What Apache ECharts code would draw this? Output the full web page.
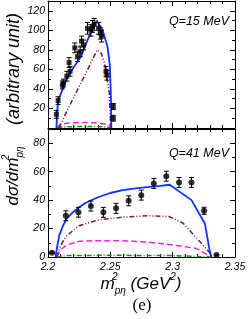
<!DOCTYPE html>
<html><head><meta charset="utf-8">
<script src="https://cdn.jsdelivr.net/npm/echarts@6/dist/echarts.min.js"></script>
<style>html,body{margin:0;padding:0;background:#fff}#c{width:249px;height:319px}</style>
</head><body><div id="c"></div>
<script>
// ---- data: Q = 15 MeV (top panel) ----
const q15X   = [2.2067, 2.2081, 2.2115, 2.2124, 2.2151, 2.2169, 2.2177, 2.2215, 2.2237, 2.2258, 2.2269, 2.2285, 2.2317, 2.2344, 2.2357, 2.2371, 2.2406, 2.2419, 2.2430, 2.2465, 2.2473, 2.2524, 2.2524];
const q15Y   = [14, 28, 44, 46, 53, 67, 58, 82, 73, 78, 89, 85, 102, 100, 104, 106, 102, 97, 94, 58, 54, 22, 10];
const q15Err = [4, 4, 4, 4, 5, 5, 5, 5, 5, 5, 5, 5, 6, 6, 6, 6, 6, 6, 6, 5, 5, 3, 3];
const q15BlueX = [2.2067, 2.2075, 2.2081, 2.2115, 2.2156, 2.2210, 2.2264, 2.2317, 2.2390, 2.2438, 2.2478, 2.2497, 2.2505, 2.2508];
const q15BlueY = [0, 18, 28, 39, 52, 63, 73, 90, 110, 100, 83, 63, 30, 0];
const q15BrownX = [2.2089, 2.215, 2.222, 2.23, 2.236, 2.2395, 2.2425, 2.2452, 2.2465, 2.2492, 2.2503];
const q15BrownY = [0, 17, 35, 55, 71, 80, 77, 67, 58, 35, 0];
const q15MagX = [2.2067, 2.2075, 2.2095, 2.215, 2.222, 2.23, 2.238, 2.245, 2.249, 2.2505];
const q15MagY = [0, 2, 3.5, 4.8, 5.5, 5.7, 5.3, 4.2, 3, 0];
const q15GreenX = [2.2075, 2.215, 2.23, 2.245, 2.2505];
const q15GreenY = [0.5, 1.3, 1.6, 1.3, 0.3];

// ---- data: Q = 41 MeV (bottom panel) ----
const q41X   = [2.2032, 2.2143, 2.2244, 2.2344, 2.2444, 2.2546, 2.2647, 2.2748, 2.2849, 2.2949, 2.3051, 2.3151, 2.3252, 2.3352];
const q41Y   = [3, 29, 31.5, 35.8, 31.4, 34.2, 39.5, 43.5, 51.7, 56.8, 52.4, 52.4, 32.5, 1.4];
const q41Err = [0.5, 3.5, 3.5, 3.5, 3.5, 3.5, 3.5, 3.5, 3.5, 3.5, 3.5, 3.5, 2.5, 0.5];
const q41BlueX = [2.206, 2.2075, 2.209, 2.212, 2.215, 2.22, 2.225, 2.23, 2.24, 2.25, 2.26, 2.27, 2.28, 2.29, 2.2976, 2.3151, 2.3258, 2.3298, 2.3312];
const q41BlueY = [0, 8, 15, 22, 27, 31.5, 35, 38, 42, 45, 47, 48.3, 49.2, 50, 50.8, 40, 23.6, 4, 0];
const q41BrownX = [2.207, 2.21, 2.215, 2.225, 2.24, 2.26, 2.28, 2.297, 2.308, 2.3164, 2.3244, 2.3298, 2.331];
const q41BrownY = [0, 8, 15, 22, 26, 28, 29, 28.5, 24, 16, 8.4, 2.8, 0];
const q41MagX = [2.207, 2.21, 2.215, 2.225, 2.237, 2.257, 2.28, 2.30, 2.319, 2.331];
const q41MagY = [0, 5, 8.5, 11, 11.5, 11.5, 10.5, 8.5, 6, 0];
const q41GreenX = [2.207, 2.215, 2.25, 2.30, 2.331];
const q41GreenY = [0, 1, 1.2, 1, 0];

// tick labels
const xTicks = [2.2, 2.25, 2.3, 2.35];
const yTicksTop = [20, 40, 60, 80, 100, 120];
const yTicksBottom = [0, 20, 40, 60, 80];

const zip = (xs, ys) => xs.map((x, i) => [x, ys[i]]);
const zip3 = (xs, ys, es) => xs.map((x, i) => [x, ys[i], es[i]]);

const BLUE = '#1030ff', BROWN = '#6a1f45', MAG = '#ff20e0', GREEN = '#1b8a1b';
const labelFont = { fontFamily: 'Liberation Sans', fontStyle: 'italic', fontSize: 10.5, color: '#000' };

function xAx(grid, pos, showLabel) {
  return {
    type: 'value', gridIndex: grid, position: pos, min: 2.2, max: 2.35, interval: 0.05,
    axisLine: { show: true, onZero: false, lineStyle: { color: '#000', width: 1 } },
    axisTick: { show: true, inside: true, length: 5, lineStyle: { color: '#000' } },
    minorTick: { show: true, splitNumber: 5, length: 3, lineStyle: { color: '#000' } },
    splitLine: { show: false },
    axisLabel: Object.assign({ show: showLabel, margin: 5,
      formatter: v => { const r = Math.round(v * 100) / 100; return xTicks.includes(r) ? String(r) : ''; } }, labelFont)
  };
}
function yAx(grid, pos, max, ticks, showLabel) {
  return {
    type: 'value', gridIndex: grid, position: pos, min: 0, max: max, interval: 20,
    axisLine: { show: true, onZero: false, lineStyle: { color: '#000', width: 1 } },
    axisTick: { show: true, inside: true, length: 5, lineStyle: { color: '#000' } },
    minorTick: { show: true, splitNumber: 2, length: 3, lineStyle: { color: '#000' } },
    splitLine: { show: false },
    axisLabel: Object.assign({ show: showLabel, margin: 3,
      formatter: v => ticks.includes(Math.round(v)) ? String(Math.round(v)) : '' }, labelFont)
  };
}

function errSeries(data, xi, yi) {
  return {
    type: 'custom', xAxisIndex: xi, yAxisIndex: yi, data: data, encode: { x: 0, y: 1 }, z: 5,
    renderItem: (params, api) => {
      const x = api.value(0), y = api.value(1), e = api.value(2);
      const t = api.coord([x, y + e]), b = api.coord([x, y - e]);
      const c = 2.5, st = { stroke: '#000', lineWidth: 1 };
      return { type: 'group', children: [
        { type: 'line', shape: { x1: t[0], y1: t[1], x2: b[0], y2: b[1] }, style: st },
        { type: 'line', shape: { x1: t[0] - c, y1: t[1], x2: t[0] + c, y2: t[1] }, style: st },
        { type: 'line', shape: { x1: b[0] - c, y1: b[1], x2: b[0] + c, y2: b[1] }, style: st }
      ] };
    }
  };
}
function lineSeries(data, xi, yi, color, type, w) {
  return { type: 'line', xAxisIndex: xi, yAxisIndex: yi, data: data, showSymbol: false, smooth: false,
    lineStyle: { color: color, width: w, type: type }, z: 3, animation: false };
}

const richStyles = (main) => ({
  m: { fontFamily: 'Liberation Sans', fontStyle: 'italic', fontSize: main, lineHeight: 24, fill: '#000' },
  sup: { fontFamily: 'Liberation Sans', fontStyle: 'italic', fontSize: 10, lineHeight: 24, verticalAlign: 'top', fill: '#000', width: 0 },
  sub: { fontFamily: 'Liberation Sans', fontStyle: 'italic', fontSize: 10, lineHeight: 24, verticalAlign: 'bottom', fill: '#000' },
  sup2: { fontFamily: 'Liberation Sans', fontStyle: 'italic', fontSize: 10, lineHeight: 24, verticalAlign: 'top', fill: '#000' }
});

const chart = echarts.init(document.getElementById('c'), null, { renderer: 'canvas' });
chart.setOption({
  animation: false,
  grid: [
    { left: 48, width: 187, top: 1, height: 127 },
    { left: 48, width: 187, top: 129, height: 128 }
  ],
  xAxis: [ xAx(0, 'bottom', false), xAx(0, 'top', false), xAx(1, 'bottom', true), xAx(1, 'top', false) ],
  yAxis: [ yAx(0, 'left', 130, yTicksTop, true), yAx(0, 'right', 130, yTicksTop, false),
           yAx(1, 'left', 90, yTicksBottom, true), yAx(1, 'right', 90, yTicksBottom, false) ],
  series: [
    lineSeries(zip(q15GreenX, q15GreenY), 0, 0, GREEN, [5, 2, 1, 2], 1.5),
    lineSeries(zip(q15MagX, q15MagY), 0, 0, MAG, [6, 3], 1.5),
    lineSeries(zip(q15BrownX, q15BrownY), 0, 0, BROWN, [5, 2, 1, 2, 1, 2], 1.5),
    lineSeries(zip(q15BlueX, q15BlueY), 0, 0, BLUE, 'solid', 1.8),
    errSeries(zip3(q15X, q15Y, q15Err), 0, 0),
    { type: 'scatter', xAxisIndex: 0, yAxisIndex: 0, data: zip(q15X, q15Y), symbol: 'rect', symbolSize: 5,
      itemStyle: { color: '#000' }, z: 6 },

    lineSeries(zip(q41GreenX, q41GreenY), 2, 2, GREEN, [5, 2, 1, 2], 1.5),
    lineSeries(zip(q41MagX, q41MagY), 2, 2, MAG, [6, 3], 1.5),
    lineSeries(zip(q41BrownX, q41BrownY), 2, 2, BROWN, [5, 2, 1, 2, 1, 2], 1.5),
    lineSeries(zip(q41BlueX, q41BlueY), 2, 2, BLUE, 'solid', 1.8),
    errSeries(zip3(q41X, q41Y, q41Err), 2, 2),
    { type: 'scatter', xAxisIndex: 2, yAxisIndex: 2, data: zip(q41X, q41Y), symbol: 'circle', symbolSize: 6,
      itemStyle: { color: '#000' }, z: 6 }
  ],
  graphic: [
    { type: 'text', x: 229, y: 22, style: { text: 'Q=15 MeV', fill: '#000', font: 'italic 12.5px "Liberation Sans"',
      align: 'right', verticalAlign: 'middle' } },
    { type: 'text', x: 229, y: 154, style: { text: 'Q=41 MeV', fill: '#000', font: 'italic 12.5px "Liberation Sans"',
      align: 'right', verticalAlign: 'middle' } },
    { type: 'text', x: 13, y: 176, rotation: Math.PI / 2, style: {
      text: '{m|dσ/dm}{sup|2}{sub|pη}', align: 'center', verticalAlign: 'middle', fill: '#000',
      rich: richStyles(17) } },
    { type: 'text', x: 14, y: 69, rotation: Math.PI / 2, style: {
      text: '(arbitrary unit)', align: 'center', verticalAlign: 'middle', fill: '#000',
      font: 'italic 18px "Liberation Sans"' } },
    { type: 'text', x: 141, y: 284, style: {
      text: '{m|m}{sup|2}{sub|pη}{m| (GeV}{sup2|2}{m|)}', align: 'center', verticalAlign: 'middle', fill: '#000',
      rich: richStyles(17) } },
    { type: 'text', x: 142, y: 306, style: { text: '(e)', fill: '#000', font: '17px "Liberation Serif"',
      align: 'center', verticalAlign: 'middle' } }
  ]
});
</script></body></html>
